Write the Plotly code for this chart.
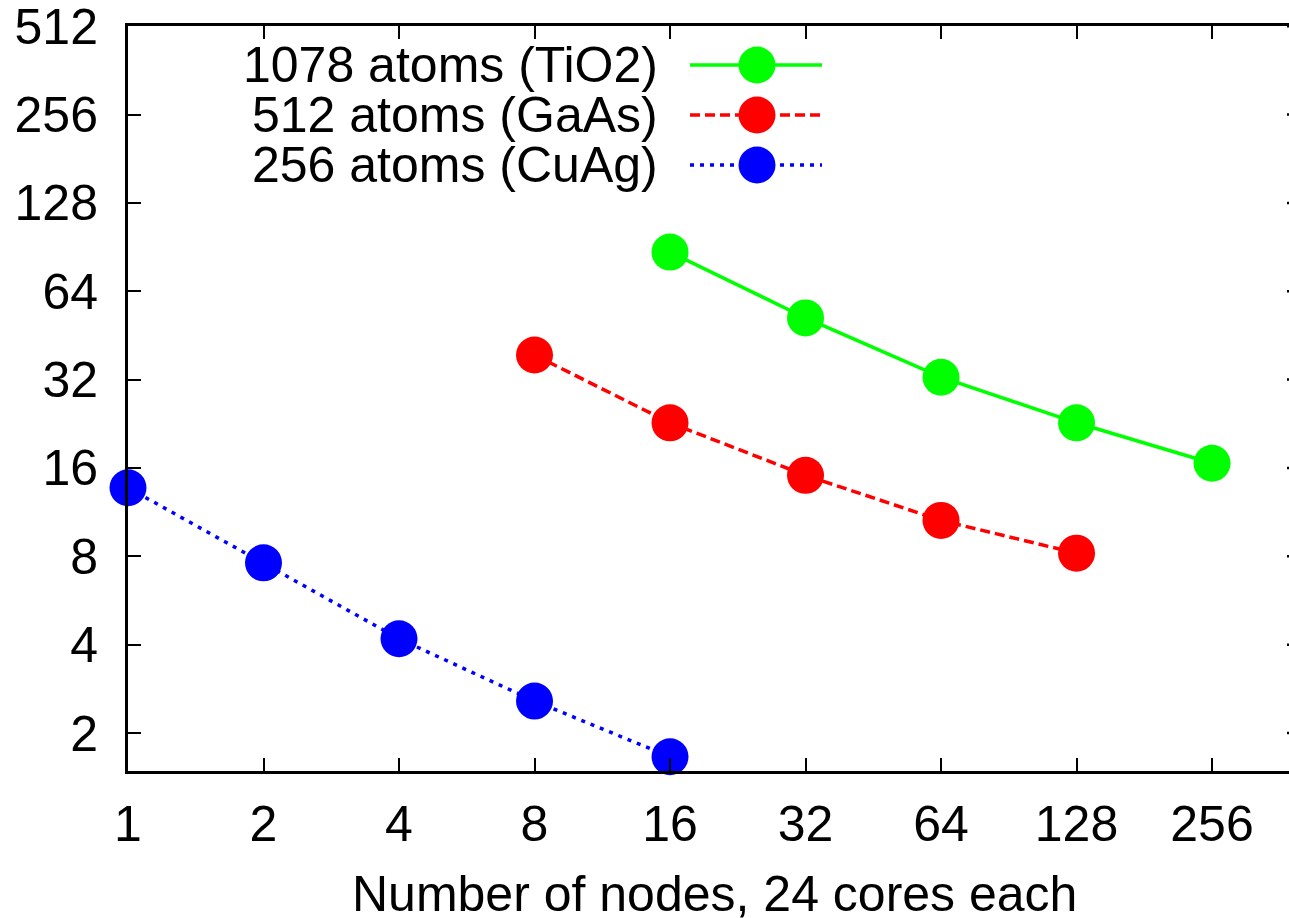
import math
import plotly.graph_objects as go

# ---- data ----
nodes_tio2 = [16, 32, 64, 128, 256]
time_tio2 = [87.0, 51.9, 32.6, 22.8, 16.6]

nodes_gaas = [8, 16, 32, 64, 128]
time_gaas = [38.8, 22.8, 15.1, 10.6, 8.2]

nodes_cuag = [1, 2, 4, 8, 16]
time_cuag = [13.7, 7.6, 4.19, 2.57, 1.66]

x_ticks = [1, 2, 4, 8, 16, 32, 64, 128, 256]
y_ticks = [2, 4, 8, 16, 32, 64, 128, 256, 512]

series_names = ["1078 atoms (TiO2)", "512 atoms (GaAs)", "256 atoms (CuAg)"]
series_colors = ["#00ff00", "#ff0000", "#0000ff"]
series_dash = ["solid", "10px,5px", "4px,6px"]

FONT = "Liberation Sans, Arial, Helvetica, sans-serif"
FS = 50
W, H = 1289, 918
ML, MR, MT, MB = 128, 0, 26, 147
LW = 3.5
MS = 37

fig = go.Figure()
for nx, ty, c, d in zip([nodes_tio2, nodes_gaas, nodes_cuag],
                        [time_tio2, time_gaas, time_cuag],
                        series_colors, series_dash):
    fig.add_trace(go.Scatter(
        x=nx, y=ty, mode="lines+markers",
        line=dict(color=c, width=LW, dash=d),
        marker=dict(color=c, size=MS, line=dict(width=0)),
        cliponaxis=False, showlegend=False, hoverinfo="skip"))

# ---- gnuplot-style legend (text left, sample right) on a pixel overlay axis ----
leg_rows = [65, 115, 165]
text_right = 660
samp_x0, samp_x1 = 690, 822
for name, c, d, yy in zip(series_names, series_colors, series_dash, leg_rows):
    fig.add_trace(go.Scatter(
        x=[samp_x0, (samp_x0 + samp_x1) / 2, samp_x1], y=[yy, yy, yy],
        mode="lines", line=dict(color=c, width=LW, dash=d),
        xaxis="x2", yaxis="y2", showlegend=False, hoverinfo="skip"))
    fig.add_trace(go.Scatter(
        x=[(samp_x0 + samp_x1) / 2 + 1], y=[yy], mode="markers",
        marker=dict(color=c, size=MS, line=dict(width=0)),
        xaxis="x2", yaxis="y2", showlegend=False, hoverinfo="skip",
        cliponaxis=False))
    fig.add_annotation(x=text_right, y=yy, xref="x2", yref="y2", text=name,
                       showarrow=False, xanchor="right", yanchor="middle",
                       font=dict(family=FONT, size=FS, color="black"))

# x-axis title centred on the (wider) original frame
fig.add_annotation(x=(714 - ML) / (W - ML), y=-(894 - (H - MB)) / (H - MB - MT),
                   xref="paper", yref="paper", text="Number of nodes, 24 cores each",
                   showarrow=False, xanchor="center", yanchor="middle",
                   font=dict(family=FONT, size=FS, color="black"))

# small right-side tick stubs (frame edge is just beyond the image)
for yv in y_ticks:
    fig.add_shape(type="line", xref="paper", yref="y",
                  x0=(1287 - ML) / (W - ML), x1=1.0, y0=yv, y1=yv,
                  line=dict(color="black", width=2.5))

axis_common = dict(showgrid=False, zeroline=False, showline=True,
                   linecolor="black", linewidth=3, ticks="inside",
                   ticklen=13, tickwidth=2, tickcolor="black",
                   ticklabeloverflow="allow",
                   tickfont=dict(family=FONT, size=FS, color="black"))

fig.update_layout(
    width=W, height=H,
    margin=dict(l=ML, r=MR, t=MT, b=MB, pad=0),
    paper_bgcolor="white", plot_bgcolor="white",
    xaxis=dict(type="log", range=[0, 8.568 * math.log10(2)],
               tickvals=x_ticks, ticktext=[str(v) for v in x_ticks],
               mirror="ticks", ticklabelstandoff=7, **axis_common),
    yaxis=dict(type="log", range=[0.570 * math.log10(2), 9.002 * math.log10(2)],
               tickvals=y_ticks, ticktext=[str(v) for v in y_ticks],
               mirror=False, ticklabelstandoff=17, **axis_common),
    xaxis2=dict(overlaying="x", range=[ML, W], visible=False, fixedrange=True),
    yaxis2=dict(overlaying="y", range=[H - MB, MT], visible=False, fixedrange=True),
    showlegend=False,
)

fig.write_html("out.html")
